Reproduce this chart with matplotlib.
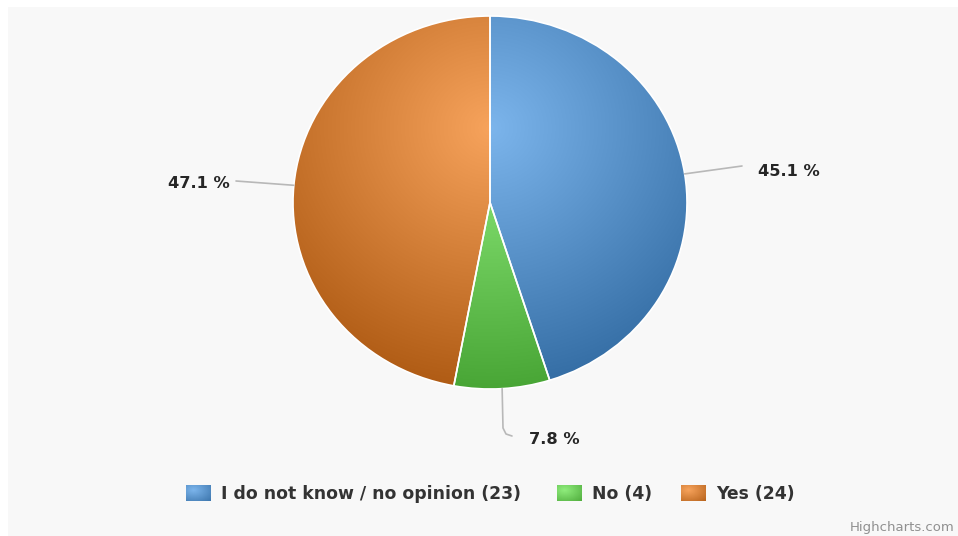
import numpy as np
import matplotlib
matplotlib.use("Agg")
import matplotlib.pyplot as plt
from matplotlib.colors import to_rgb
from matplotlib.patches import Rectangle

# survey answers
labels = ["I do not know / no opinion", "No", "Yes"]
counts = [23, 4, 24]
colors = ["#7cb5ec", "#90ed7d", "#f7a35c"]

W, H = 958, 536
fig = plt.figure(figsize=(W / 100, H / 100), dpi=100)
fig.patch.set_facecolor("white")

# background layer in pixel coordinates
bg = fig.add_axes([0, 0, 1, 1])
bg.set_xlim(0, W)
bg.set_ylim(H, 0)
bg.axis("off")
bg.add_patch(Rectangle((8, 7), W - 8, H - 7, color="#f8f8f8", lw=0))

# pie box (slightly stretched horizontally)
cx, cy, rx, ry = 490, 202.5, 197, 186.5
ax = fig.add_axes([(cx - rx) / W, 1 - (cy + ry) / H, 2 * rx / W, 2 * ry / H])
ax.patch.set_facecolor("none")
wedges, _ = ax.pie(counts, colors=colors, startangle=90, counterclock=False,
                   radius=1, wedgeprops=dict(edgecolor="white", linewidth=1.2))


def darker(c, amount=0.3):
    return np.clip(np.array(to_rgb(c)) - amount, 0, 1)


def radial_fill(c, X, Y, gx, gy, gr):
    base = np.array(to_rgb(c))
    dark = darker(c)
    t = np.clip(np.sqrt((X - gx) ** 2 + (Y - gy) ** 2) / gr, 0, 1)[..., None]
    return base * (1 - t) + dark * t


# radial gradient shading on each slice
xs = np.linspace(-1, 1, 500)
X, Y = np.meshgrid(xs, xs)
for w, c in zip(wedges, colors):
    img = radial_fill(c, X, Y, 0.0, 0.4, 1.5)
    im = ax.imshow(img, extent=(-1, 1, -1, 1), origin="lower",
                   interpolation="bilinear", zorder=1)
    im.set_clip_path(w)
    w.set_facecolor("none")
    w.set_zorder(2)
ax.set_xlim(-1, 1)
ax.set_ylim(-1, 1)
ax.set_aspect("auto")
ax.axis("off")

# top layer for labels and legend
top = fig.add_axes([0, 0, 1, 1])
top.set_xlim(0, W)
top.set_ylim(H, 0)
top.axis("off")
top.patch.set_facecolor("none")

total = sum(counts)
pcts = [100 * v / total for v in counts]
mids = [np.deg2rad((w.theta1 + w.theta2) / 2) for w in wedges]

# connector end / label anchor for each slice
conn = [
    [(742, 166)],
    [(503, 428), (506, 434), (512, 436)],
    [(236, 181)],
]
label_pos = [(758, 171, "left"), (529, 440, "left"), (230, 184, "right")]

for a, pts, (lx, ly, ha), p in zip(mids, conn, label_pos, pcts):
    sx = cx + rx * np.cos(a)
    sy = cy - ry * np.sin(a)
    px = [sx] + [q[0] for q in pts]
    py = [sy] + [q[1] for q in pts]
    top.plot(px, py, color="#b8b8b8", lw=1.2, solid_capstyle="round")
    top.text(lx, ly, f"{p:.1f} %", ha=ha, va="center", fontsize=11.7,
             fontweight="bold", color="#262626")

# legend
leg_x = [186, 557, 681]
sq = np.linspace(0, 1, 40)
SX, SY = np.meshgrid(sq, sq)
for x0, lab, v, c in zip(leg_x, labels, counts, colors):
    img = radial_fill(c, SX, SY, 0.3, 0.3, 1.2)
    top.imshow(img, extent=(x0, x0 + 25, 501, 485), origin="upper",
               interpolation="bilinear", zorder=3)
    top.text(x0 + 35, 494, f"{lab} ({v})", ha="left", va="center",
             fontsize=12.4, fontweight="bold", color="#333333")
top.set_xlim(0, W)
top.set_ylim(H, 0)
top.set_aspect("auto")

top.text(955, 528, "Highcharts.com", ha="right", va="center",
         fontsize=9.5, color="#909090")

fig.savefig("out.png", dpi=100)
